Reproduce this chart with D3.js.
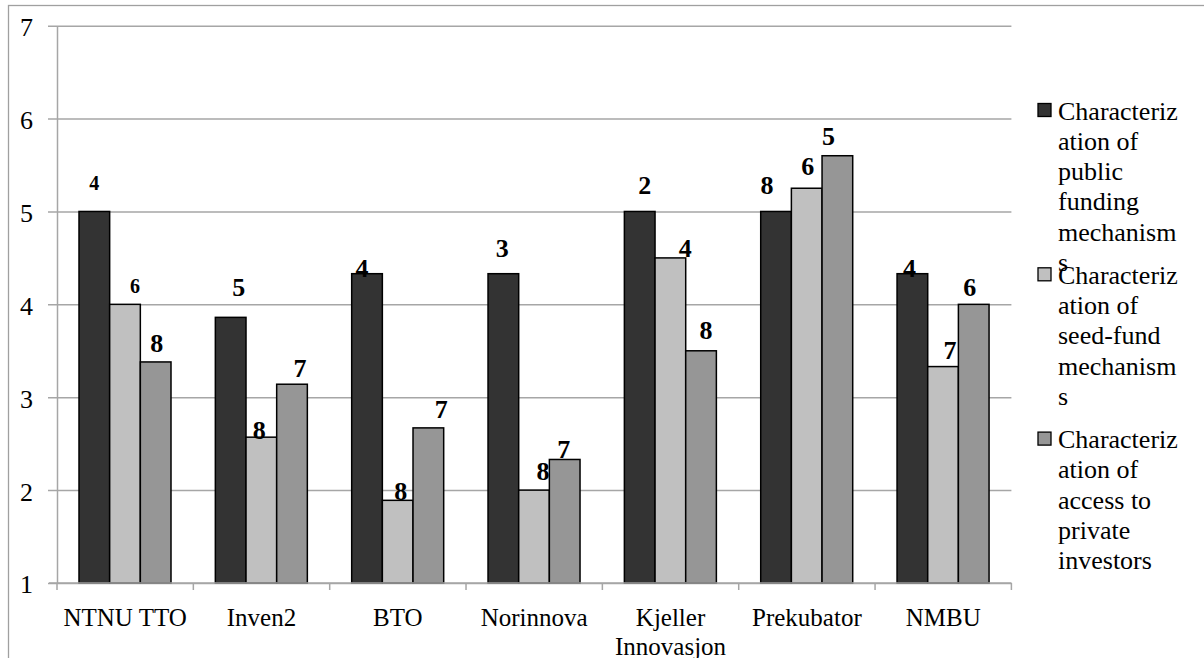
<!DOCTYPE html>
<html>
<head>
    <meta charset="utf-8">
    <title>Characterization chart</title>
    <script src="https://d3js.org/d3.v7.min.js"></script>
    <style>
        body { margin: 0; background: #fff; }
        text { font-family: "Liberation Serif", "Times New Roman", serif; }
    </style>
</head>
<body>
    <div id="chart"></div>

    <script>
        // data
        var categories = ["NTNU TTO", "Inven2", "BTO", "Norinnova", "Kjeller Innovasjon", "Prekubator", "NMBU"];
        var seriesNames = [
            "Characterization of public funding mechanisms",
            "Characterization of seed-fund mechanisms",
            "Characterization of access to private investors"
        ];
        var publicFunding = [5, 3.86, 4.33, 4.33, 5, 5, 4.33];
        var seedFund = [4, 2.57, 1.89, 2, 4.5, 5.25, 3.33];
        var privateInvestors = [3.38, 3.14, 2.67, 2.33, 3.5, 5.6, 4];
        // rank labels shown on top of the bars
        var publicRank = [4, 5, 4, 3, 2, 8, 4];
        var seedRank = [6, 8, 8, 8, 4, 6, 7];
        var privateRank = [8, 7, 7, 7, 8, 5, 6];
        var yTicks = [1, 2, 3, 4, 5, 6, 7];

        // hand placed labels in the original, [dx, dy] from bar top centre
        var labelNudge = [
            [[0, -21], [8, -21], [-5, 3], [-1, -17], [5, -17], [-9, -17], [-3, 3]],
            [[10, -11], [-2, 2], [3, 0], [9, -10], [15, -1], [1, -13], [7, -8]],
            [[1, -10], [8, -7], [13, -10], [-1, -1], [5, -12], [-9, -11], [-4, -8]]
        ];

        var width = 1204, height = 658;
        var plotLeft = 57, plotRight = 1011.4, plotTop = 25.7, plotBottom = 583;
        var colors = ["#333333", "#c0c0c0", "#969696"];
        var grey = "#a6a6a6";

        var series = [publicFunding, seedFund, privateInvestors];
        var ranks = [publicRank, seedRank, privateRank];

        var svg = d3.select("#chart").append("svg")
            .attr("width", width)
            .attr("height", height);

        // outer chart frame (runs past the picture edge on right and bottom)
        svg.append("rect")
            .attr("x", 8.5).attr("y", 5.5)
            .attr("width", 1300).attr("height", 800)
            .attr("fill", "none")
            .attr("stroke", "#a0a0a0")
            .attr("stroke-width", 1.3);

        var x = d3.scaleBand().domain(categories).range([plotLeft, plotRight]).padding(0);
        var x1 = d3.scaleBand().domain([0, 1, 2]).range([22, 114]).padding(0);
        var y = d3.scaleLinear().domain([1, 7]).range([plotBottom, plotTop]);

        // y axis with grid lines
        var yAxis = svg.append("g")
            .attr("transform", "translate(" + plotLeft + ",0)")
            .call(d3.axisLeft(y).tickValues(yTicks).tickSizeInner(-(plotRight - plotLeft)).tickSizeOuter(0).tickFormat(d3.format("d")));
        yAxis.select(".domain").attr("stroke", grey).attr("stroke-width", 1.5);
        yAxis.selectAll(".tick line")
            .attr("x1", -9)
            .attr("stroke", grey)
            .attr("stroke-width", 1.5);
        yAxis.selectAll(".tick text")
            .attr("x", -24)
            .attr("dy", "0.38em")
            .attr("font-size", 26)
            .attr("fill", "#000")
            .style("font-family", "'Liberation Serif', serif");

        // bars
        var groups = svg.selectAll(".grp")
            .data(categories)
            .enter().append("g")
            .attr("class", "grp")
            .attr("transform", function(d) { return "translate(" + x(d) + ",0)"; });

        groups.selectAll("rect")
            .data(function(d, i) { return series.map(function(s, k) { return { k: k, v: s[i] }; }); })
            .enter().append("rect")
            .attr("x", function(d) { return x1(d.k); })
            .attr("y", function(d) { return y(d.v); })
            .attr("width", x1.bandwidth())
            .attr("height", function(d) { return y(1) - y(d.v); })
            .attr("fill", function(d) { return colors[d.k]; })
            .attr("stroke", "#000")
            .attr("stroke-width", 1.5);

        // x axis
        var xAxis = svg.append("g")
            .attr("transform", "translate(0," + plotBottom + ")");
        xAxis.append("line")
            .attr("x1", plotLeft - 8).attr("x2", plotRight)
            .attr("stroke", grey).attr("stroke-width", 1.5);
        xAxis.selectAll(".xt")
            .data(categories.concat(["end"]))
            .enter().append("line")
            .attr("x1", function(d) { return d === "end" ? plotRight : x(d); })
            .attr("x2", function(d) { return d === "end" ? plotRight : x(d); })
            .attr("y1", 0).attr("y2", 7)
            .attr("stroke", grey).attr("stroke-width", 1.5);

        var measure = document.createElement("canvas").getContext("2d");
        function textWidth(t, size) {
            measure.font = size + "px 'Liberation Serif'";
            return measure.measureText(t).width;
        }

        // wrap words, splitting long words by characters like the original
        function wrap(str, maxW, size) {
            var lines = [], line = "";
            str.split(" ").forEach(function(word) {
                var test = line ? line + " " + word : word;
                if (textWidth(test, size) <= maxW) { line = test; return; }
                if (line) lines.push(line);
                line = "";
                var rest = word;
                while (textWidth(rest, size) > maxW) {
                    var n = rest.length;
                    while (n > 1 && textWidth(rest.slice(0, n), size) > maxW) n--;
                    lines.push(rest.slice(0, n));
                    rest = rest.slice(n);
                }
                line = rest;
            });
            if (line) lines.push(line);
            return lines;
        }

        var catSize = 25;
        categories.forEach(function(c) {
            var lines = wrap(c, x.bandwidth() - 4, catSize);
            var t = svg.append("text")
                .attr("x", x(c) + x.bandwidth() / 2)
                .attr("y", 626)
                .attr("text-anchor", "middle")
                .attr("font-size", catSize)
                .attr("fill", "#000");
            lines.forEach(function(l, i) {
                t.append("tspan")
                    .attr("x", x(c) + x.bandwidth() / 2)
                    .attr("dy", i === 0 ? 0 : 29)
                    .text(l);
            });
        });

        // rank labels
        series.forEach(function(s, k) {
            svg.selectAll(".lbl" + k)
                .data(s)
                .enter().append("text")
                .attr("class", "lbl" + k)
                .attr("x", function(d, i) { return x(categories[i]) + x1(k) + x1.bandwidth() / 2 + labelNudge[k][i][0]; })
                .attr("y", function(d, i) { return y(d) + labelNudge[k][i][1]; })
                .attr("text-anchor", "middle")
                .attr("font-weight", "bold")
                .attr("font-size", function(d, i) { return (i === 0 && k < 2) ? 20 : 26; })
                .attr("fill", "#000")
                .text(function(d, i) { return ranks[k][i]; });
        });

        // legend
        var legSize = 26, legX = 1038, legY = 119.5, legStep = 164.3, lineH = 30.3;
        seriesNames.forEach(function(name, k) {
            var by = legY + k * legStep;
            svg.append("rect")
                .attr("x", legX).attr("y", by - 16)
                .attr("width", 13).attr("height", 13)
                .attr("fill", colors[k])
                .attr("stroke", "#000")
                .attr("stroke-width", 1.3);
            var t = svg.append("text")
                .attr("x", legX + 20)
                .attr("y", by)
                .attr("font-size", legSize)
                .attr("fill", "#000");
            wrap(name, 125, legSize).forEach(function(l, i) {
                t.append("tspan")
                    .attr("x", legX + 20)
                    .attr("dy", i === 0 ? 0 : lineH)
                    .text(l);
            });
        });
    </script>
</body>
</html>
